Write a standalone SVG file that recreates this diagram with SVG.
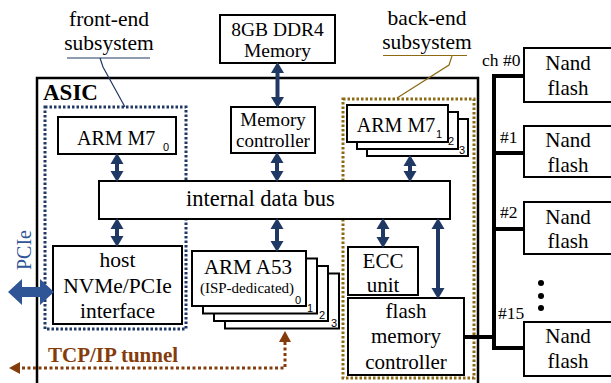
<svg xmlns="http://www.w3.org/2000/svg" width="611" height="383" viewBox="0 0 611 383">
<style>
.t{font-family:"Liberation Serif","Times New Roman","DejaVu Serif",serif;fill:#000}
.m{text-anchor:middle}
.s{font-family:"Liberation Sans",Arial,sans-serif;font-size:11px;fill:#000}
.box{fill:#fff;stroke:#000;stroke-width:2}
.nav{stroke:#203864;stroke-width:4;fill:none}
.bus{stroke:#000;stroke-width:4;fill:none}
</style>
<defs>
<marker id="ah" viewBox="0 -7 11 14" refX="0" refY="0" markerWidth="11" markerHeight="14" markerUnits="userSpaceOnUse" orient="auto-start-reverse">
<path d="M0,-6.5 L11,0 L0,6.5 Z" fill="#203864"/>
</marker>
</defs>

<g id="asic">
<path d="M37,384 L37,78 L478,78 L478,384" fill="none" stroke="#000" stroke-width="2.5"/>
<text class="t" x="43" y="100" font-size="23" font-weight="bold">ASIC</text>
</g>

<g id="front-end">
<rect x="45" y="107" width="141" height="222" fill="none" stroke="#203864" stroke-width="3" stroke-dasharray="2.5 2"/>
<text class="t m" x="109" y="26" font-size="21.5">front-end</text>
<text class="t m" x="109" y="50" font-size="21.5">subsystem</text>
<path d="M67,58 L150,58 M100,58 L103,67 L125,107" fill="none" stroke="#203864" stroke-width="1.2"/>
</g>

<g id="back-end">
<rect x="343" y="99" width="131" height="279" fill="none" stroke="#8C6A14" stroke-width="3" stroke-dasharray="2.5 2"/>
<text class="t m" x="427" y="25" font-size="21.5">back-end</text>
<text class="t m" x="427" y="49" font-size="21.5">subsystem</text>
<path d="M383,55.5 L467,55.5 M452,56 L449,65 L397,98" fill="none" stroke="#8C6A14" stroke-width="1.2"/>
</g>

<g id="ddr4">
<rect class="box" x="220" y="15" width="115" height="48"/>
<text class="t m" x="277.5" y="36" font-size="19.5">8GB DDR4</text>
<text class="t m" x="277.5" y="57" font-size="19.5">Memory</text>
</g>

<g id="memctrl">
<rect class="box" x="231" y="107" width="84" height="46"/>
<text class="t m" x="273" y="126" font-size="19">Memory</text>
<text class="t m" x="273" y="147" font-size="19">controller</text>
</g>

<g id="arm-m7-0">
<rect class="box" x="58" y="117" width="118" height="37"/>
<text class="t" x="77" y="145" font-size="20">ARM M7</text>
<text class="s" x="163" y="151" font-size="13">0</text>
</g>

<g id="bus">
<rect class="box" x="99" y="181" width="351" height="38"/>
<text class="t" x="186" y="206" font-size="22.5">internal data bus</text>
</g>

<g id="host">
<rect class="box" x="53" y="246" width="129" height="78"/>
<text class="t m" x="117.5" y="267" font-size="21.5">host</text>
<text class="t m" x="117.5" y="293" font-size="21.5">NVMe/PCIe</text>
<text class="t m" x="117.5" y="318" font-size="21.5">interface</text>
</g>

<g id="arm-a53">
<rect class="box" x="225" y="273.5" width="114" height="55"/>
<rect class="box" x="214" y="266" width="114" height="55"/>
<rect class="box" x="203" y="258.5" width="114" height="55"/>
<rect class="box" x="192" y="251" width="114" height="55"/>
<text class="t m" x="248" y="274" font-size="21">ARM A53</text>
<text class="t m" x="247" y="293" font-size="15">(ISP-dedicated)</text>
<text class="s" x="295" y="304">0</text>
<text class="s" x="307" y="312">1</text>
<text class="s" x="319" y="319">2</text>
<text class="s" x="331" y="327">3</text>
</g>

<g id="arm-m7-123">
<rect class="box" x="367" y="119" width="101" height="37"/>
<rect class="box" x="357" y="112" width="101" height="37"/>
<rect class="box" x="347" y="105" width="101" height="37"/>
<text class="t m" x="396" y="132" font-size="20">ARM M7</text>
<text class="s" x="436" y="138">1</text>
<text class="s" x="448" y="145">2</text>
<text class="s" x="459" y="154">3</text>
</g>

<g id="ecc">
<rect class="box" x="348" y="247" width="70" height="48"/>
<text class="t m" x="383" y="268" font-size="21">ECC</text>
<text class="t m" x="383" y="292" font-size="21">unit</text>
</g>

<g id="fmc">
<rect class="box" x="348" y="298" width="116" height="77"/>
<text class="t m" x="406" y="318" font-size="21">flash</text>
<text class="t m" x="406" y="343" font-size="21">memory</text>
<text class="t m" x="406" y="369" font-size="21">controller</text>
</g>

<g id="nand0">
<rect class="box" x="524" y="48" width="100" height="54"/>
<text class="t m" x="568" y="70" font-size="21">Nand</text>
<text class="t m" x="568" y="95" font-size="21">flash</text>
</g>
<g id="nand1">
<rect class="box" x="524" y="126" width="100" height="51"/>
<text class="t m" x="568" y="147" font-size="21">Nand</text>
<text class="t m" x="568" y="172" font-size="21">flash</text>
</g>
<g id="nand2">
<rect class="box" x="524" y="202" width="100" height="52"/>
<text class="t m" x="568" y="224" font-size="21">Nand</text>
<text class="t m" x="568" y="248" font-size="21">flash</text>
</g>
<g id="nand15">
<rect class="box" x="524" y="322" width="100" height="54"/>
<text class="t m" x="568" y="343" font-size="21">Nand</text>
<text class="t m" x="568" y="368" font-size="21">flash</text>
</g>

<g id="pcie">
<path d="M8,292 L22,279 L22,287 L40,287 L40,279 L54,292 L40,305 L40,297 L22,297 L22,305 Z" fill="#2F5597"/>
<text class="t m" transform="translate(31,250) rotate(-90)" font-size="20" style="fill:#2F5597">PCIe</text>
</g>

<g id="tcp">
<text class="t" x="48" y="362" font-size="21" font-weight="bold" style="fill:#843C0C">TCP/IP tunnel</text>
</g>

<g id="connectors">
<line class="nav" x1="277.5" y1="73" x2="277.5" y2="97" marker-start="url(#ah)" marker-end="url(#ah)"/>
<line class="nav" x1="277" y1="163" x2="277" y2="171" marker-start="url(#ah)" marker-end="url(#ah)"/>
<line class="nav" x1="117" y1="164" x2="117" y2="171" marker-start="url(#ah)" marker-end="url(#ah)"/>
<line class="nav" x1="117" y1="229" x2="117" y2="236" marker-start="url(#ah)" marker-end="url(#ah)"/>
<line class="nav" x1="277" y1="229" x2="277" y2="241" marker-start="url(#ah)" marker-end="url(#ah)"/>
<line class="nav" x1="410" y1="166" x2="410" y2="171" marker-start="url(#ah)" marker-end="url(#ah)"/>
<line class="nav" x1="383" y1="229" x2="383" y2="237" marker-start="url(#ah)" marker-end="url(#ah)"/>
<line class="nav" x1="438" y1="229" x2="438" y2="288" marker-start="url(#ah)" marker-end="url(#ah)"/>
<path class="bus" d="M524,76 L494,76 L494,348 L524,348 M494,153 L524,153 M494,229 L524,229 M464,337 L494,337"/>
<text class="t" x="482" y="66" font-size="17.5">ch #0</text>
<text class="t" x="500" y="143" font-size="17.5">#1</text>
<text class="t" x="500" y="218" font-size="17.5">#2</text>
<text class="t" x="498" y="319" font-size="17.5">#15</text>
<circle cx="541" cy="283" r="3"/>
<circle cx="541" cy="296" r="3"/>
<circle cx="541" cy="308" r="3"/>
<path d="M285,342 L285,368 L20,368" fill="none" stroke="#843C0C" stroke-width="3" stroke-dasharray="3 2.5"/>
<path d="M285,331 L291,342 L279,342 Z" fill="#843C0C"/>
<path d="M9,368 L20,362 L20,374 Z" fill="#843C0C"/>
</g>
</svg>
